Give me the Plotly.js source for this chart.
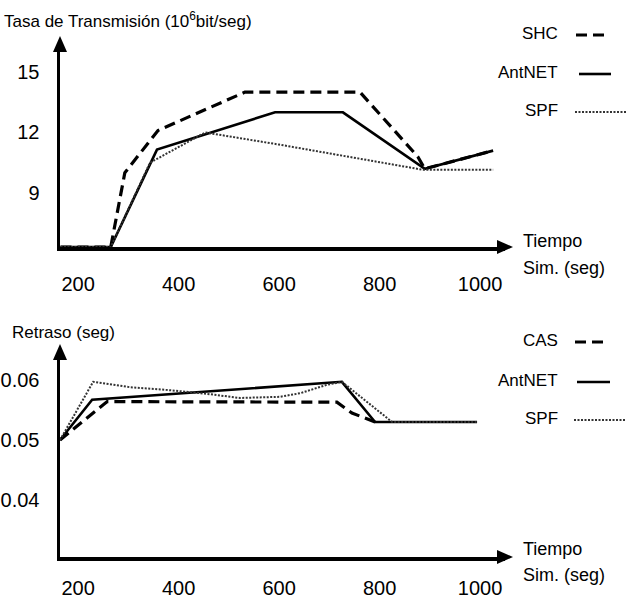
<!DOCTYPE html>
<html><head><meta charset="utf-8">
<script src="https://cdn.plot.ly/plotly-3.0.1.min.js"></script>
<style>body{margin:0;padding:0;background:#fff}#c{width:639px;height:600px}</style>
</head><body><div id="c"></div>
<script>
// ---- Data: top chart (Tasa de Transmisión) ----
const topSHC_x = [165, 265, 293, 359, 532, 761, 876, 890, 1026];
const topSHC_y = [6.32, 6.32, 10.0, 12.1, 14.0, 14.0, 10.8, 10.2, 11.1];
const topAnt_x = [165, 265, 357, 592, 727, 890, 1026];
const topAnt_y = [6.32, 6.32, 11.15, 13.0, 13.0, 10.2, 11.1];
const topSPF_x = [165, 265, 343, 453, 600, 886, 1026];
const topSPF_y = [6.32, 6.32, 10.5, 12.0, 11.4, 10.15, 10.15];
// ---- Data: bottom chart (Retraso) ----
const botCAS_x = [164, 258, 715, 745, 791];
const botCAS_y = [0.05, 0.0564, 0.0563, 0.0545, 0.053];
const botAnt_x = [164, 228, 725, 791, 994];
const botAnt_y = [0.05, 0.0567, 0.0597, 0.053, 0.053];
const botSPF_x = [164, 230, 303, 383, 456, 522, 602, 642, 695, 725, 825, 994];
const botSPF_y = [0.05, 0.0597, 0.0588, 0.0583, 0.0577, 0.0570, 0.0572, 0.0578, 0.0592, 0.0597, 0.053, 0.053];
// ---- Ticks / labels ----
const xTicks = [200, 400, 600, 800, 1000];
const xTickText = ['200', '400', '600', '800', '1000'];
const topYTicks = [9, 12, 15];
const topYTickText = ['9', '12', '15'];
const botYTicks = [0.04, 0.05, 0.06];
const botYTickText = ['0.04', '0.05', '0.06'];
const topNames = ['SHC', 'AntNET', 'SPF'];
const botNames = ['CAS', 'AntNET', 'SPF'];

const W = 639, H = 600;
const px = v => v / W, py = v => 1 - v / H;
const fam = 'Liberation Sans';

const sDash = {color: '#000', width: 3.2, dash: '11px,6px'};
const sSolid = {color: '#000', width: 2.6};
const sDot = {color: '#333', width: 2, dash: '2px,1.5px'};

const traces = [
  {x: topSHC_x, y: topSHC_y, xaxis: 'x', yaxis: 'y', mode: 'lines', line: sDash, name: topNames[0]},
  {x: topAnt_x, y: topAnt_y, xaxis: 'x', yaxis: 'y', mode: 'lines', line: sSolid, name: topNames[1]},
  {x: topSPF_x, y: topSPF_y, xaxis: 'x', yaxis: 'y', mode: 'lines', line: sDot, name: topNames[2]},
  {x: botCAS_x, y: botCAS_y, xaxis: 'x2', yaxis: 'y2', mode: 'lines', line: sDash, name: botNames[0]},
  {x: botAnt_x, y: botAnt_y, xaxis: 'x2', yaxis: 'y2', mode: 'lines', line: sSolid, name: botNames[1]},
  {x: botSPF_x, y: botSPF_y, xaxis: 'x2', yaxis: 'y2', mode: 'lines', line: sDot, name: botNames[2]}
];

const xDom = [px(60), px(505)];
const xRange = [164, 164 + 445 / 0.5025];
const axCommon = {showgrid: false, zeroline: false, showline: true, linecolor: '#000', linewidth: 3.5,
  ticks: '', tickfont: {family: fam, size: 20, color: '#000'}, fixedrange: true};

const layout = {
  width: W, height: H, margin: {l: 0, r: 0, t: 0, b: 0},
  font: {family: fam, color: '#000'},
  paper_bgcolor: '#fff', plot_bgcolor: '#fff', showlegend: false,
  xaxis: Object.assign({}, axCommon, {domain: xDom, range: xRange, anchor: 'y', tickvals: xTicks, ticktext: xTickText, ticklabelstandoff: 16}),
  yaxis: Object.assign({}, axCommon, {domain: [py(247), py(50)], range: [6.32, 16.09], anchor: 'x', tickvals: topYTicks, ticktext: topYTickText, ticklabelstandoff: 13}),
  xaxis2: Object.assign({}, axCommon, {domain: xDom, range: xRange, anchor: 'y2', tickvals: xTicks, ticktext: xTickText, ticklabelstandoff: 10}),
  yaxis2: Object.assign({}, axCommon, {domain: [py(557), py(355)], range: [0.0305, 0.0305 + 202 / 6000], anchor: 'x2', tickvals: botYTicks, ticktext: botYTickText, ticklabelstandoff: 13}),
  shapes: [],
  annotations: []
};

function tri(points) {
  return {type: 'path', xref: 'paper', yref: 'paper', fillcolor: '#000', line: {width: 0},
    path: 'M' + points.map(p => px(p[0]) + ',' + py(p[1])).join(' L') + ' Z'};
}
layout.shapes.push(tri([[60, 36], [53, 52], [67, 52]]));
layout.shapes.push(tri([[513, 247], [497, 240], [497, 254]]));
layout.shapes.push(tri([[60, 344], [53, 360], [67, 360]]));
layout.shapes.push(tri([[513, 557], [497, 550], [497, 564]]));

function txt(text, x, y, anchor, size) {
  layout.annotations.push({text: text, xref: 'paper', yref: 'paper', x: px(x), y: py(y),
    xanchor: anchor, yanchor: 'middle', showarrow: false,
    font: {family: fam, size: size || 17, color: '#000'}});
}
txt('Tasa de Transmisión (10<sup>6</sup>bit/seg)', 2, 20, 'left', 17);
txt('Retraso (seg)', 10, 332, 'left', 17);
txt('Tiempo', 521, 241, 'left', 18);
txt('Sim. (seg)', 521, 268, 'left', 18);
txt('Tiempo', 521, 549, 'left', 18);
txt('Sim. (seg)', 521, 575, 'left', 18);

const legStyles = [sDash, sSolid, sDot];
function legend(names, ys, samples) {
  names.forEach((n, i) => {
    txt(n, 560, ys[i], 'right', 17);
    const s = legStyles[i];
    layout.shapes.push({type: 'line', xref: 'paper', yref: 'paper',
      x0: px(samples[i][0]), x1: px(samples[i][1]), y0: py(ys[i] + 2), y1: py(ys[i] + 2),
      line: {color: s.color, width: s.width, dash: s.dash || 'solid'}});
  });
}
legend(topNames, [33, 72, 110], [[576, 609], [579, 611], [575, 627]]);
legend(botNames, [340, 380, 418], [[575, 608], [577, 610], [574, 626]]);

Plotly.newPlot('c', traces, layout, {displayModeBar: false, staticPlot: true});
</script>
</body></html>
